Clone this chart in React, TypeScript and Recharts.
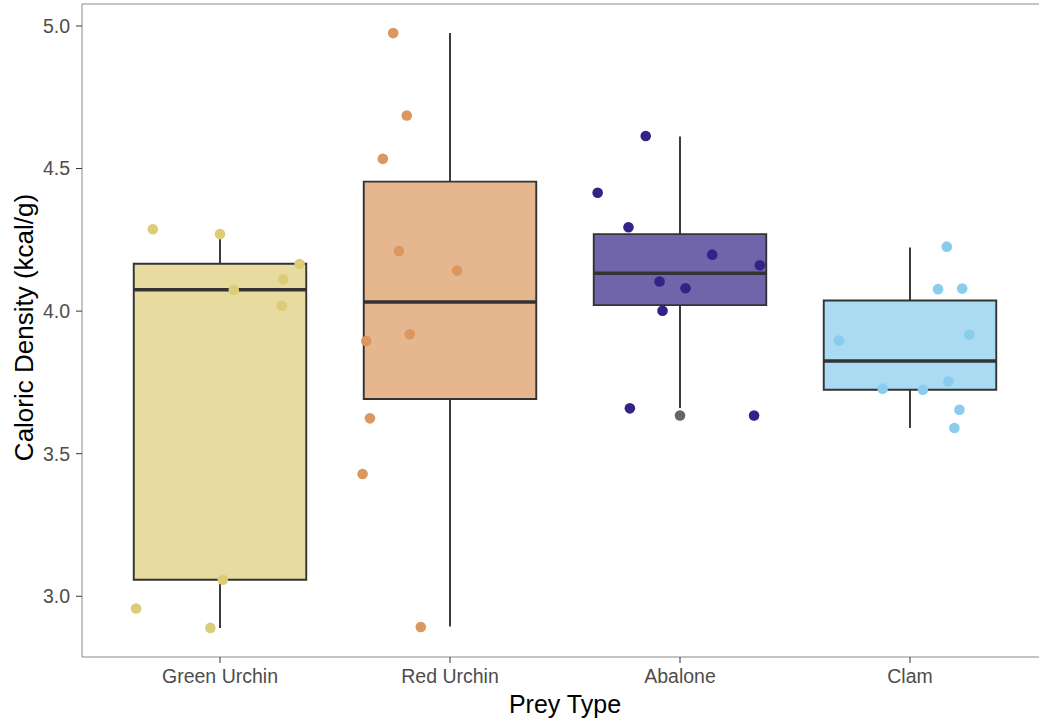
import {
  ComposedChart, XAxis, YAxis, Scatter, ReferenceArea, ReferenceLine,
} from "recharts";

const categories = ["Green Urchin", "Red Urchin", "Abalone", "Clam"];
const colors = ["#DDCC77", "#DB9760", "#332288", "#88CCEE"];

// box stats per prey type
const q1 = [3.058, 3.692, 4.021, 3.724];
const median = [4.075, 4.032, 4.133, 3.825];
const q3 = [4.166, 4.454, 4.27, 4.037];
const whiskerLow = [2.889, 2.894, 3.66, 3.59];
const whiskerHigh = [4.27, 4.975, 4.612, 4.223];
const outliers = [{ x: 3, y: 3.634 }];

// jittered observations: horizontal offset (category units) and value
const greenJitter = [-0.292, 0.0, 0.346, 0.275, 0.06, 0.269, 0.012, -0.365, -0.042];
const greenValues = [4.287, 4.27, 4.165, 4.112, 4.074, 4.019, 3.058, 2.957, 2.889];
const redJitter = [-0.247, -0.188, -0.292, -0.222, 0.031, -0.175, -0.364, -0.348, -0.38, -0.127];
const redValues = [4.975, 4.686, 4.534, 4.211, 4.142, 3.919, 3.895, 3.624, 3.429, 2.892];
const abaloneJitter = [-0.149, -0.358, -0.224, 0.14, 0.347, -0.089, 0.024, -0.076, -0.218, 0.322];
const abaloneValues = [4.614, 4.415, 4.294, 4.198, 4.161, 4.104, 4.08, 4.001, 3.659, 3.634];
const clamJitter = [0.16, 0.122, 0.227, -0.309, 0.258, 0.167, -0.119, 0.056, 0.215, 0.193];
const clamValues = [4.226, 4.077, 4.079, 3.897, 3.917, 3.753, 3.728, 3.724, 3.654, 3.59];

const yTicks = [3.0, 3.5, 4.0, 4.5, 5.0];
const xDomain: [number, number] = [0.4, 4.6];
const yDomain: [number, number] = [2.787, 5.077];
const BOX_HALF = 0.375;

const jitterSets = [
  [greenJitter, greenValues],
  [redJitter, redValues],
  [abaloneJitter, abaloneValues],
  [clamJitter, clamValues],
];

const FONT = "'Liberation Sans', Arial, Helvetica, sans-serif";
const BORDER = "#8a8a8a";

const dot = (fill: string) => (props: any) => (
  <circle cx={props.cx} cy={props.cy} r={5.3} fill={fill} />
);

export default function App() {
  return (
    <div style={{ position: "absolute", left: 0, top: 0, width: 1039, height: 723, overflow: "hidden", background: "#fff" }}>
      <ComposedChart
        width={1100}
        height={723}
        margin={{ top: 4, right: 52, bottom: 0, left: 0 }}
        style={{ fontFamily: FONT }}
      >
        <XAxis
          type="number"
          dataKey="x"
          domain={xDomain}
          ticks={[1, 2, 3, 4]}
          tickFormatter={(v: number) => categories[v - 1]}
          allowDataOverflow
          axisLine={{ stroke: BORDER }}
          tickLine={{ stroke: "#333" }}
          tickSize={6}
          tickMargin={6}
          height={66}
          tick={{ fill: "#4D4D4D", fontSize: 19.5 }}
          label={{ value: "Prey Type", position: "insideBottom", offset: 10, fill: "#000", fontSize: 25 }}
        />
        <YAxis
          type="number"
          dataKey="y"
          domain={yDomain}
          ticks={yTicks}
          allowDataOverflow
          tickFormatter={(v: number) => v.toFixed(1)}
          axisLine={{ stroke: BORDER }}
          tickLine={{ stroke: "#333" }}
          tickSize={6}
          tickMargin={6}
          width={82}
          tick={{ fill: "#4D4D4D", fontSize: 19.5 }}
          label={{
            content: (p: any) => {
              const vb = p.viewBox;
              const x = vb.x + 33;
              const y = vb.y + vb.height / 2 - 3;
              return (
                <text x={x} y={y} transform={`rotate(-90 ${x} ${y})`} textAnchor="middle" fill="#000" fontSize={26} fontFamily={FONT}>
                  Caloric Density (kcal/g)
                </text>
              );
            },
          }}
        />

        {/* top edge of the panel border */}
        <ReferenceLine y={yDomain[1]} stroke={BORDER} strokeWidth={1} ifOverflow="visible" />

        {categories.map((c, i) => (
          <ReferenceLine
            key={`wl-${c}`}
            segment={[{ x: i + 1, y: whiskerLow[i] }, { x: i + 1, y: q1[i] }]}
            stroke="#333" strokeWidth={1.9}
          />
        ))}
        {categories.map((c, i) => (
          <ReferenceLine
            key={`wh-${c}`}
            segment={[{ x: i + 1, y: q3[i] }, { x: i + 1, y: whiskerHigh[i] }]}
            stroke="#333" strokeWidth={1.9}
          />
        ))}
        {categories.map((c, i) => (
          <ReferenceArea
            key={`box-${c}`}
            x1={i + 1 - BOX_HALF} x2={i + 1 + BOX_HALF} y1={q1[i]} y2={q3[i]}
            fill={colors[i]} fillOpacity={0.7} stroke="#333" strokeWidth={1.9}
          />
        ))}
        {categories.map((c, i) => (
          <ReferenceLine
            key={`med-${c}`}
            segment={[{ x: i + 1 - BOX_HALF, y: median[i] }, { x: i + 1 + BOX_HALF, y: median[i] }]}
            stroke="#333" strokeWidth={3.6}
          />
        ))}

        <Scatter data={outliers} dataKey="y" shape={dot("#666")} isAnimationActive={false} />
        {jitterSets.map(([jit, vals], i) => (
          <Scatter
            key={`pts-${categories[i]}`}
            data={jit.map((j, k) => ({ x: i + 1 + j, y: vals[k] }))}
            dataKey="y"
            shape={dot(colors[i])}
            isAnimationActive={false}
          />
        ))}
      </ComposedChart>
    </div>
  );
}
